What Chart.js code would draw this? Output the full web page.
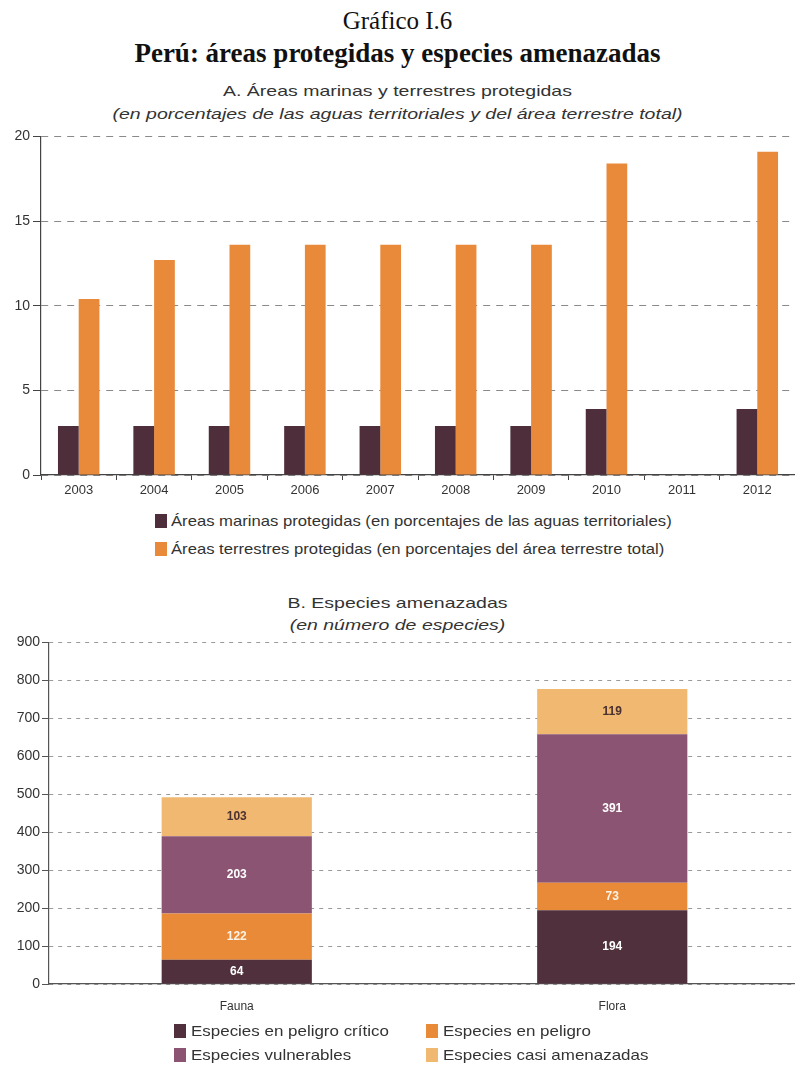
<!DOCTYPE html>
<html>
<head>
<meta charset="utf-8">
<script src="https://cdn.jsdelivr.net/npm/chart.js@4/dist/chart.umd.min.js"></script>
<style>
  html, body { margin:0; padding:0; background:#fff; width:795px; height:1066px; overflow:hidden; }
  body { position:relative; font-family:"Liberation Sans", Arial, sans-serif; color:#333; }
  .t { position:absolute; left:0; width:795px; text-align:center; white-space:nowrap; transform-origin:397.5px 50%; }
  .wide { transform:scaleX(1.3); }
  .serif { font-family:"Liberation Serif", "Times New Roman", serif; color:#111; }
  .leg { position:absolute; font-size:15px; color:#333; white-space:nowrap; line-height:18px; }
  .sq { position:absolute; width:12px; height:14px; }
  .lt { position:absolute; transform-origin:0 50%; }
  canvas { position:absolute; left:0; }
</style>
</head>
<body>
<div class="t serif" style="top:7px;font-size:25px;line-height:28px;">Gráfico I.6</div>
<div class="t serif" style="top:38px;font-size:27px;line-height:30px;font-weight:bold;">Perú: áreas protegidas y especies amenazadas</div>
<div class="t wide" style="top:82px;font-size:15px;line-height:18px;">A. Áreas marinas y terrestres protegidas</div>
<div class="t wide" style="top:105px;font-size:15px;line-height:18px;font-style:italic;">(en porcentajes de las aguas territoriales y del área terrestre total)</div>

<div style="position:absolute;left:0;top:125px;width:795px;height:375px;"><canvas id="c1"></canvas></div>

<div class="leg" style="left:0;top:512px;"><span class="sq" style="left:155px;top:2px;background:#4e2e3b"></span><span class="lt" style="left:171px;top:0;transform:scaleX(1.11)">Áreas marinas protegidas (en porcentajes de las aguas territoriales)</span></div>
<div class="leg" style="left:0;top:540px;"><span class="sq" style="left:155px;top:2px;background:#e9893a"></span><span class="lt" style="left:171px;top:0;transform:scaleX(1.11)">Áreas terrestres protegidas (en porcentajes del área terrestre total)</span></div>

<div class="t wide" style="top:594px;font-size:15px;line-height:18px;">B. Especies amenazadas</div>
<div class="t wide" style="top:616px;font-size:15px;line-height:18px;font-style:italic;">(en número de especies)</div>

<div style="position:absolute;left:0;top:632px;width:800px;height:392px;"><canvas id="c2"></canvas></div>

<div class="leg" style="left:0;top:1022px;"><span class="sq" style="left:174px;top:2px;background:#50303c"></span><span class="lt" style="left:191px;top:0;transform:scaleX(1.13)">Especies en peligro crítico</span></div>
<div class="leg" style="left:0;top:1022px;"><span class="sq" style="left:426px;top:2px;background:#e98a39"></span><span class="lt" style="left:443px;top:0;transform:scaleX(1.13)">Especies en peligro</span></div>
<div class="leg" style="left:0;top:1046px;"><span class="sq" style="left:174px;top:2px;background:#8b5472"></span><span class="lt" style="left:191px;top:0;transform:scaleX(1.13)">Especies vulnerables</span></div>
<div class="leg" style="left:0;top:1046px;"><span class="sq" style="left:426px;top:2px;background:#f1b872"></span><span class="lt" style="left:443px;top:0;transform:scaleX(1.13)">Especies casi amenazadas</span></div>

<script>
// ---- Data: chart A ----
const years = ["2003","2004","2005","2006","2007","2008","2009","2010","2011","2012"];
const marinas = [2.9, 2.9, 2.9, 2.9, 2.9, 2.9, 2.9, 3.9, null, 3.9];
const terrestres = [10.4, 12.7, 13.6, 13.6, 13.6, 13.6, 13.6, 18.4, null, 19.1];
const seriesA = ["Áreas marinas protegidas (en porcentajes de las aguas territoriales)",
                 "Áreas terrestres protegidas (en porcentajes del área terrestre total)"];
const yTicksA = [0, 5, 10, 15, 20];

// ---- Data: chart B ----
const grupos = ["Fauna", "Flora"];
const peligroCritico = [64, 194];
const enPeligro = [122, 73];
const vulnerables = [203, 391];
const casiAmenazadas = [103, 119];
const seriesB = ["Especies en peligro crítico", "Especies en peligro", "Especies vulnerables", "Especies casi amenazadas"];
const yTicksB = [0, 100, 200, 300, 400, 500, 600, 700, 800, 900];

const FONT = "'Liberation Sans', Arial, sans-serif";
Chart.defaults.font.family = FONT;
Chart.defaults.color = "#333";

new Chart(document.getElementById("c1"), {
  type: "bar",
  data: {
    labels: years,
    datasets: [
      { label: seriesA[0], data: marinas, backgroundColor: "#4e2e3b" },
      { label: seriesA[1], data: terrestres, backgroundColor: "#e9893a" }
    ]
  },
  options: {
    responsive: true, maintainAspectRatio: false, animation: false,
    layout: { padding: { top: 10, right: 0, left: 0, bottom: 0 } },
    plugins: { legend: { display: false }, tooltip: { enabled: false } },
    datasets: { bar: { categoryPercentage: 0.55, barPercentage: 1.0 } },
    scales: {
      x: {
        afterFit: s => { s.height = 25; },
        grid: { offset: true, drawOnChartArea: false, drawTicks: true, tickLength: 5, color: "#444" },
        border: { color: "#444", width: 1.2 },
        ticks: { font: { size: 13 }, padding: 3, color: "#333" }
      },
      y: {
        min: 0, max: 20,
        afterFit: s => { s.width = 41; },
        afterBuildTicks: s => { s.ticks = yTicksA.map(v => ({ value: v })); },
        grid: { color: "#8a8a8a", lineWidth: 1, tickLength: 8, tickColor: "#444", tickBorderDash: [] },
        border: { color: "#444", width: 1.2, dash: [7, 6] },
        ticks: { font: { size: 14 }, padding: 3, color: "#333" }
      }
    }
  }
});

const labelPlugin = {
  id: "segLabels",
  afterDatasetsDraw(chart) {
    const ctx = chart.ctx;
    ctx.save();
    ctx.font = "bold 12px " + FONT;
    ctx.textAlign = "center";
    ctx.textBaseline = "middle";
    chart.data.datasets.forEach((ds, di) => {
      const meta = chart.getDatasetMeta(di);
      meta.data.forEach((el, i) => {
        const v = ds.data[i];
        if (v == null) return;
        ctx.fillStyle = ds.labelColor;
        ctx.fillText(String(v), el.x, (el.y + el.base) / 2);
      });
    });
    ctx.restore();
  }
};

new Chart(document.getElementById("c2"), {
  type: "bar",
  data: {
    labels: grupos,
    datasets: [
      { label: seriesB[0], data: peligroCritico, backgroundColor: "#50303c", labelColor: "#fff" },
      { label: seriesB[1], data: enPeligro, backgroundColor: "#e98a39", labelColor: "#fdf3e6" },
      { label: seriesB[2], data: vulnerables, backgroundColor: "#8b5472", labelColor: "#fff" },
      { label: seriesB[3], data: casiAmenazadas, backgroundColor: "#f1b872", labelColor: "#4a3030" }
    ]
  },
  plugins: [labelPlugin],
  options: {
    responsive: true, maintainAspectRatio: false, animation: false,
    layout: { padding: { top: 10, right: 0, left: 0, bottom: 0 } },
    plugins: { legend: { display: false }, tooltip: { enabled: false } },
    datasets: { bar: { categoryPercentage: 1.0, barPercentage: 0.4 } },
    scales: {
      x: {
        stacked: true,
        afterFit: s => { s.height = 40; },
        grid: { display: false },
        border: { color: "#555", width: 1.2 },
        ticks: { font: { size: 12 }, padding: 7, color: "#333" }
      },
      y: {
        stacked: true, min: 0, max: 900,
        afterFit: s => { s.width = 49; },
        afterBuildTicks: s => { s.ticks = yTicksB.map(v => ({ value: v })); },
        grid: { color: "#9a9a9a", lineWidth: 1, tickLength: 7, tickColor: "#555", tickBorderDash: [] },
        border: { color: "#555", width: 1.2, dash: [4, 5] },
        ticks: { font: { size: 14 }, padding: 2, color: "#333" }
      }
    }
  }
});
</script>
</body>
</html>
